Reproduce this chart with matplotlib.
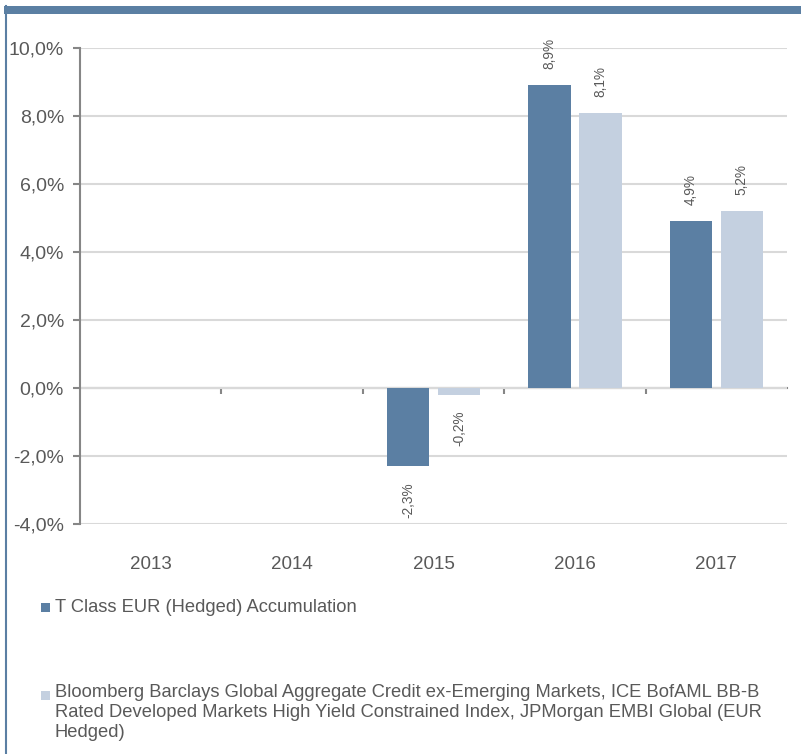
import numpy as np
from matplotlib import pyplot
from matplotlib.patches import Rectangle
from matplotlib.lines import Line2D
from matplotlib.ticker import FuncFormatter

pyplot.rcParams['font.family'] = ['Liberation Sans', 'DejaVu Sans']

years = ['2013', '2014', '2015', '2016', '2017']
fund = [np.nan, np.nan, -2.3, 8.9, 4.9]
index = [np.nan, np.nan, -0.2, 8.1, 5.2]
fund_label = 'T Class EUR (Hedged) Accumulation'
index_label = ('Bloomberg Barclays Global Aggregate Credit ex-Emerging Markets, ICE BofAML BB-B\n'
               'Rated Developed Markets High Yield Constrained Index, JPMorgan EMBI Global (EUR\n'
               'Hedged)')

dark = '#5b7fa3'
light = '#c4d0e0'
grey = '#595959'

fig = pyplot.figure(figsize=(8.01, 7.54), dpi=100)
ax = fig.add_axes([0.0999, 0.305, 0.8826, 0.6313])

x = np.arange(len(years))
w = 0.3
off = 0.18
b1 = ax.bar(x - off, fund, w, color=dark, zorder=3)
b2 = ax.bar(x + off, index, w, color=light, zorder=3)

for bars, vals in ((b1, fund), (b2, index)):
    for r, v in zip(bars, vals):
        if np.isnan(v):
            continue
        txt = ('%.1f%%' % v).replace('.', ',')
        ax.annotate(txt, (r.get_x() + r.get_width() / 2, v),
                    xytext=(0, 11.5 if v >= 0 else -11.5), textcoords='offset points',
                    rotation=90, ha='center', va='bottom' if v >= 0 else 'top',
                    fontsize=9.8, color=grey)

ax.set_xlim(-0.5, len(years) - 0.5)
ax.set_ylim(-4, 10)
ax.set_yticks(np.arange(-4, 10.1, 2))
ax.yaxis.set_major_formatter(FuncFormatter(lambda v, p: ('%.1f%%' % v).replace('.', ',')))
ax.set_xticks(x, years)
ax.grid(axis='y', color='#d9d9d9', lw=1.5, zorder=0)
for s in ['top', 'right', 'bottom']:
    ax.spines[s].set_visible(False)
ax.spines['left'].set_color('#868686')
ax.spines['left'].set_linewidth(1.5)
ax.tick_params(axis='y', length=5, width=1.5, color='#868686', labelsize=14, labelcolor=grey, pad=6.5)
ax.tick_params(axis='x', length=0, labelsize=13.5, labelcolor=grey, pad=23)

# zero line with category boundary ticks
zpos = (0 - ax.get_ylim()[0]) / (ax.get_ylim()[1] - ax.get_ylim()[0])
sec = ax.secondary_xaxis(zpos)
sec.set_xticks(x[1:] - 0.5, [''] * (len(years) - 1))
sec.tick_params(length=4, width=1.5, color='#868686')
sec.spines['bottom'].set_color('#868686')
sec.spines['bottom'].set_linewidth(1.5)

# frame decoration
fig.add_artist(Rectangle((0.005, 1 - 14 / 754), 0.995, 8 / 754, transform=fig.transFigure,
                         color=dark, lw=0))
fig.add_artist(Line2D([6 / 801, 6 / 801], [0, 1 - 6 / 754], transform=fig.transFigure,
                      color=dark, lw=1.5))

# legend
fig.add_artist(Rectangle((41 / 801, 1 - 612 / 754), 9 / 801, 9 / 754, transform=fig.transFigure,
                         color=dark, lw=0))
fig.text(55 / 801, 1 - 608 / 754, fund_label, fontsize=13.2, color=grey, va='center')
fig.add_artist(Rectangle((41 / 801, 1 - 700 / 754), 9 / 801, 9 / 754, transform=fig.transFigure,
                         color=light, lw=0))
fig.text(55 / 801, 1 - 684 / 754, index_label, fontsize=13.2, color=grey, va='top',
         linespacing=1.22)

fig.savefig('out.png', dpi=100)
